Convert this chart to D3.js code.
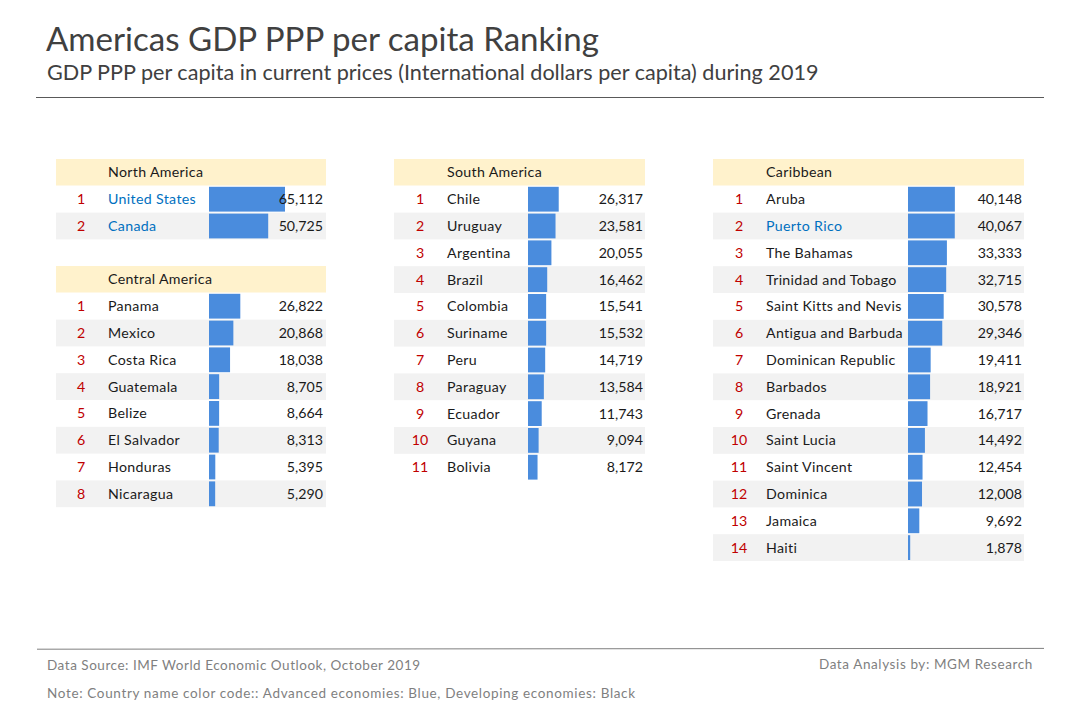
<!DOCTYPE html>
<html><head><meta charset="utf-8">
<script src="https://cdn.jsdelivr.net/npm/d3@7"></script>
<style>html,body{margin:0;padding:0;background:#fff}svg{display:block}text{font-family:Lato,"Open Sans",sans-serif}</style>
</head><body><svg id="c" width="1080" height="720"></svg>
<script>
const naNames=["United States","Canada"];
const naValues=[65112,50725];
const naAdvanced=[true,true];
const caNames=["Panama","Mexico","Costa Rica","Guatemala","Belize","El Salvador","Honduras","Nicaragua"];
const caValues=[26822,20868,18038,8705,8664,8313,5395,5290];
const caAdvanced=caNames.map(()=>false);
const saNames=["Chile","Uruguay","Argentina","Brazil","Colombia","Suriname","Peru","Paraguay","Ecuador","Guyana","Bolivia"];
const saValues=[26317,23581,20055,16462,15541,15532,14719,13584,11743,9094,8172];
const saAdvanced=saNames.map(()=>false);
const cbNames=["Aruba","Puerto Rico","The Bahamas","Trinidad and Tobago","Saint Kitts and Nevis","Antigua and Barbuda","Dominican Republic","Barbados","Grenada","Saint Lucia","Saint Vincent","Dominica","Jamaica","Haiti"];
const cbValues=[40148,40067,33333,32715,30578,29346,19411,18921,16717,14492,12454,12008,9692,1878];
const cbAdvanced=cbNames.map(n=>n==="Puerto Rico");

const svg=d3.select("#c");
const barScale=d3.scaleLinear().domain([0,65112]).range([0,76]);
const fmt=d3.format(",");
const PITCH=26.8;
function table(o){
  const g=svg.append("g");
  const w=o.right-o.left;
  g.append("rect").attr("x",o.left).attr("y",o.top).attr("width",w).attr("height",26.5).attr("fill","#FFF2CC");
  g.append("text").attr("x",o.nameX).attr("y",o.top+18).attr("font-size",14.2).attr("letter-spacing",0.32).attr("fill","#1a1a1a").text(o.title);
  const rows=o.names.map((n,i)=>({n,v:o.values[i],adv:o.adv[i],i}));
  const y=d3.scaleBand().domain(d3.range(rows.length)).range([o.top+26.8,o.top+26.8+PITCH*rows.length]).padding(0);
  const r=g.selectAll("g.r").data(rows).join("g").attr("class","r");
  r.filter(d=>d.i%2===1).append("rect").attr("x",o.left).attr("y",d=>y(d.i)).attr("width",w).attr("height",y.bandwidth()).attr("fill","#F2F2F2");
  r.append("rect").attr("x",o.barX).attr("y",d=>y(d.i)+1).attr("width",d=>barScale(d.v)).attr("height",y.bandwidth()-2).attr("fill","#4A8CDD");
  r.append("text").attr("x",o.rankX).attr("y",d=>y(d.i)+18.3).attr("text-anchor","middle").attr("font-size",14.2).attr("fill","#C00000").text(d=>d.i+1);
  r.append("text").attr("x",o.nameX).attr("y",d=>y(d.i)+18.3).attr("font-size",14.2).attr("letter-spacing",0.33).attr("fill",d=>d.adv?"#0070C0":"#1a1a1a").text(d=>d.n);
  r.append("text").attr("x",o.valX).attr("y",d=>y(d.i)+18.3).attr("text-anchor","end").attr("font-size",14.2).attr("fill","#1a1a1a").text(d=>fmt(d.v));
}
table({title:"North America",names:naNames,values:naValues,adv:naAdvanced,left:56,right:326,top:159,nameX:108,rankX:81,barX:209,valX:323});
table({title:"Central America",names:caNames,values:caValues,adv:caAdvanced,left:56,right:326,top:266,nameX:108,rankX:81,barX:209,valX:323});
table({title:"South America",names:saNames,values:saValues,adv:saAdvanced,left:394,right:645,top:159,nameX:447,rankX:420,barX:528,valX:643});
table({title:"Caribbean",names:cbNames,values:cbValues,adv:cbAdvanced,left:713,right:1024,top:159,nameX:766,rankX:739,barX:908,valX:1022});

svg.append("text").attr("x",46).attr("y",51).attr("font-size",33.1).attr("fill","#404040").text("Americas GDP PPP per capita Ranking");
svg.append("text").attr("x",47).attr("y",80).attr("font-size",21.6).attr("fill","#404040").text("GDP PPP per capita in current prices (International dollars per capita) during 2019");
svg.append("line").attr("x1",36).attr("x2",1044).attr("y1",97.5).attr("y2",97.5).attr("stroke","#595959");
svg.append("line").attr("x1",37).attr("x2",1044).attr("y1",649.2).attr("y2",648.4).attr("stroke","#7f7f7f");
svg.append("text").attr("x",47).attr("y",670).attr("font-size",13.5).attr("letter-spacing",0.53).attr("fill","#7f7f7f").text("Data Source: IMF World Economic Outlook, October 2019");
svg.append("text").attr("x",1033).attr("y",669).attr("text-anchor","end").attr("font-size",13.5).attr("letter-spacing",0.6).attr("fill","#7f7f7f").text("Data Analysis by: MGM Research");
svg.append("text").attr("x",47).attr("y",698).attr("font-size",13.5).attr("letter-spacing",0.65).attr("fill","#7f7f7f").text("Note: Country name color code:: Advanced economies: Blue, Developing economies: Black");
</script></body></html>
